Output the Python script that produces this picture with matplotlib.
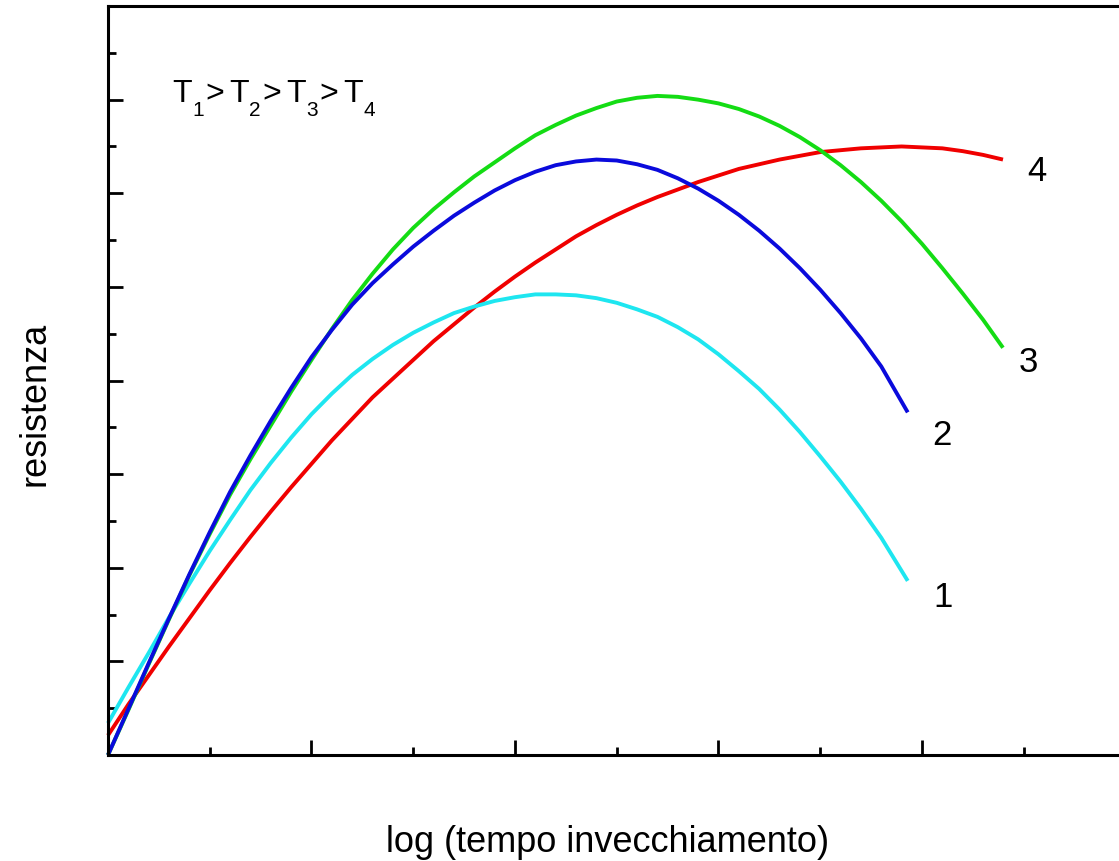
import matplotlib
matplotlib.use("Agg")
import matplotlib.pyplot as plt
from matplotlib.ticker import MultipleLocator, NullFormatter

plt.rcParams["font.family"] = ["Liberation Sans", "DejaVu Sans"]

# Curve 1 (T1, highest temperature)
x1 = [0.0, 0.1, 0.2, 0.3, 0.4, 0.5, 0.6, 0.7, 0.8, 0.9, 1.0, 1.1, 1.2, 1.3,
      1.4, 1.5, 1.6, 1.7, 1.8, 1.9, 2.0, 2.1, 2.2, 2.3, 2.4, 2.5, 2.6, 2.7,
      2.8, 2.9, 3.0, 3.1, 3.2, 3.3, 3.4, 3.5, 3.6, 3.7, 3.8, 3.93]
y1 = [0.34, 0.72, 1.09, 1.47, 1.83, 2.18, 2.51, 2.83, 3.12, 3.39, 3.64, 3.86,
      4.06, 4.23, 4.38, 4.51, 4.62, 4.72, 4.79, 4.85, 4.89, 4.92, 4.92, 4.91,
      4.88, 4.83, 4.76, 4.68, 4.57, 4.44, 4.28, 4.10, 3.91, 3.69, 3.45, 3.19,
      2.92, 2.63, 2.32, 1.86]

# Curve 2 (T2)
x2 = [0.0, 0.1, 0.2, 0.3, 0.4, 0.5, 0.6, 0.7, 0.8, 0.9, 1.0, 1.1, 1.2, 1.3,
      1.4, 1.5, 1.6, 1.7, 1.8, 1.9, 2.0, 2.1, 2.2, 2.3, 2.4, 2.5, 2.6, 2.7,
      2.8, 2.9, 3.0, 3.1, 3.2, 3.3, 3.4, 3.5, 3.6, 3.7, 3.8, 3.93]
y2 = [0.0, 0.49, 0.98, 1.46, 1.93, 2.38, 2.81, 3.20, 3.57, 3.92, 4.25, 4.54,
      4.81, 5.04, 5.24, 5.43, 5.60, 5.76, 5.90, 6.03, 6.14, 6.23, 6.30, 6.34,
      6.36, 6.35, 6.31, 6.25, 6.16, 6.05, 5.92, 5.77, 5.60, 5.41, 5.20, 4.97,
      4.72, 4.45, 4.15, 3.66]

# Curve 3 (T3)
x3 = [0.0, 0.1, 0.2, 0.3, 0.4, 0.5, 0.6, 0.7, 0.8, 0.9, 1.0, 1.1, 1.2, 1.3,
      1.4, 1.5, 1.6, 1.7, 1.8, 1.9, 2.0, 2.1, 2.2, 2.3, 2.4, 2.5, 2.6, 2.7,
      2.8, 2.9, 3.0, 3.1, 3.2, 3.3, 3.4, 3.5, 3.6, 3.7, 3.8, 3.9, 4.0, 4.1,
      4.2, 4.3, 4.398]
y3 = [0.0, 0.48, 0.97, 1.45, 1.92, 2.36, 2.78, 3.16, 3.52, 3.88, 4.22, 4.55,
      4.86, 5.14, 5.40, 5.63, 5.83, 6.01, 6.18, 6.33, 6.48, 6.62, 6.73, 6.83,
      6.91, 6.98, 7.02, 7.04, 7.03, 7.00, 6.96, 6.90, 6.82, 6.72, 6.60, 6.46,
      6.30, 6.12, 5.92, 5.70, 5.46, 5.20, 4.93, 4.65, 4.35]

# Curve 4 (T4, lowest temperature)
x4 = [0.0, 0.1, 0.2, 0.3, 0.4, 0.5, 0.6, 0.7, 0.8, 0.9, 1.0, 1.1, 1.2, 1.3,
      1.4, 1.5, 1.6, 1.7, 1.8, 1.9, 2.0, 2.1, 2.2, 2.3, 2.4, 2.5, 2.6, 2.7,
      2.8, 2.9, 3.0, 3.1, 3.2, 3.3, 3.4, 3.5, 3.6, 3.7, 3.8, 3.9, 4.0, 4.1,
      4.2, 4.3, 4.398]
y4 = [0.21, 0.54, 0.85, 1.16, 1.46, 1.76, 2.05, 2.33, 2.60, 2.86, 3.11, 3.36,
      3.59, 3.82, 4.02, 4.22, 4.42, 4.60, 4.78, 4.95, 5.11, 5.26, 5.40, 5.54,
      5.66, 5.77, 5.87, 5.96, 6.04, 6.12, 6.19, 6.26, 6.31, 6.36, 6.40, 6.44,
      6.46, 6.48, 6.49, 6.50, 6.49, 6.48, 6.45, 6.41, 6.36]

curve_labels = ["1", "2", "3", "4"]
label_x = [4.103, 4.098, 4.521, 4.565]
label_y = [1.583, 3.316, 4.096, 6.128]

temps = ["1", "2", "3", "4"]

colors = ["#1EE6F0", "#0A0ADC", "#14DC14", "#F00000"]

W, H = 1119, 861
fig = plt.figure(figsize=(W / 100, H / 100), dpi=100)
ax = fig.add_axes([0.0965, 0.1231, 0.9093, 0.8699])

# draw order: red, cyan, green, blue on top
for xs, ys, c in [(x4, y4, colors[3]), (x1, y1, colors[0]),
                  (x3, y3, colors[2]), (x2, y2, colors[1])]:
    ax.plot(xs, ys, color=c, lw=2.8, solid_joinstyle="round",
            solid_capstyle="butt", clip_on=False)

for lab, lx, ly in zip(curve_labels, label_x, label_y):
    ax.text(lx, ly, lab, fontsize=25, ha="center", va="baseline")

# T1>T2>T3>T4 built from pieces: letters on one baseline, indices lowered
x0, step = 172, 57
base_main, base_sub = 102, 116
for i, t in enumerate(temps):
    xl = x0 + step * i
    fig.text(xl / W, 1 - base_main / H, "T", fontsize=23,
             ha="left", va="baseline")
    fig.text((xl + 20) / W, 1 - base_sub / H, t, fontsize=15,
             ha="left", va="baseline")
    if i < len(temps) - 1:
        fig.text((xl + 33) / W, 1 - base_main / H, ">", fontsize=23,
                 ha="left", va="baseline")

ax.set_xlim(0, 5)
ax.set_ylim(0, 8)

ax.xaxis.set_major_locator(MultipleLocator(1))
ax.xaxis.set_minor_locator(MultipleLocator(0.5))
ax.yaxis.set_major_locator(MultipleLocator(1))
ax.yaxis.set_minor_locator(MultipleLocator(0.5))
ax.xaxis.set_major_formatter(NullFormatter())
ax.yaxis.set_major_formatter(NullFormatter())

ax.tick_params(which="major", direction="in", length=11, width=2.0,
               top=False, right=False, color="black")
ax.tick_params(which="minor", direction="in", length=6, width=2.0,
               top=False, right=False, color="black")

for side in ["left", "bottom", "top"]:
    ax.spines[side].set_linewidth(2.2)
ax.spines["right"].set_visible(False)

fig.text(608 / W, 1 - 842 / H, "log (tempo invecchiamento)",
         fontsize=26, ha="center", va="center")
fig.text(35 / W, 1 - 404 / H, "resistenza", fontsize=26,
         ha="center", va="center", rotation=90)

fig.savefig("out.png", dpi=100)
